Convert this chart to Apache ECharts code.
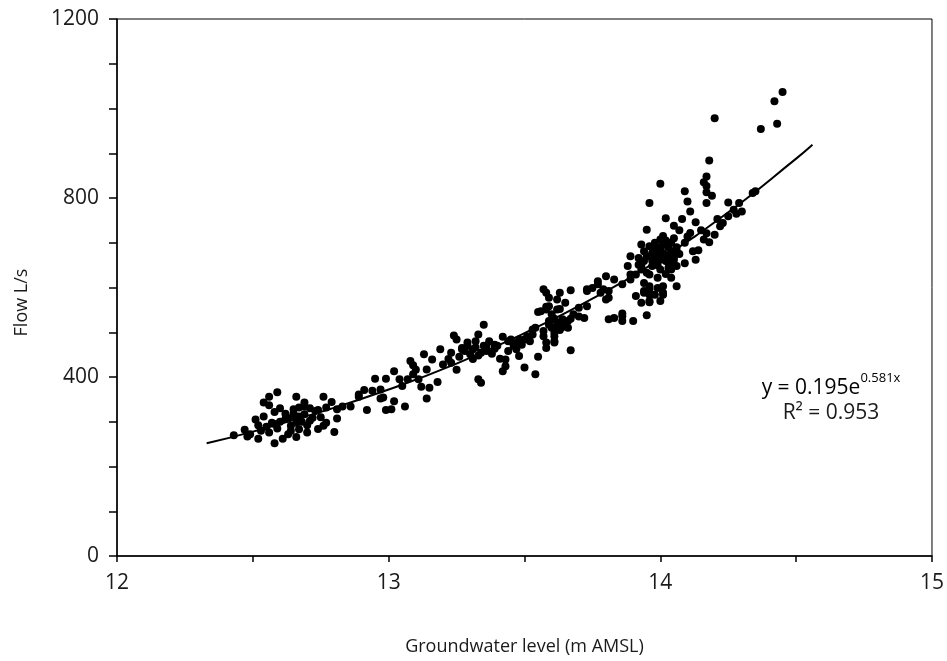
<!DOCTYPE html>
<html>
<head>
<meta charset="utf-8">
<script src="https://cdn.jsdelivr.net/npm/echarts@6/dist/echarts.min.js"></script>
<style>
  html, body { margin: 0; padding: 0; background: #fff; }
  #chart { width: 947px; height: 661px; }
</style>
</head>
<body>
<div id="chart"></div>
<script>
// Groundwater level (m AMSL) vs flow (L/s)
const groundwaterLevel = [
  12.59, 12.56, 12.54, 12.56, 12.66, 12.76, 12.79, 12.58, 12.54, 12.65,
  12.69, 12.74, 12.77, 12.81, 12.86, 12.89, 12.91, 12.95, 12.92, 12.94,
  12.97, 12.98, 12.52, 12.49, 12.52, 12.58, 12.56, 12.62, 12.63, 12.66,
  12.67, 12.70, 12.72, 12.76, 12.80, 12.81, 12.43, 12.48, 12.64, 12.59,
  12.55, 12.65, 12.69, 12.73, 12.67, 12.69, 12.77, 12.83, 12.97, 12.99,
  12.60, 12.62, 12.68, 12.70, 12.57, 12.53, 12.64, 12.71, 12.75, 12.61,
  12.51, 12.47, 12.60, 12.74, 12.66, 12.63, 12.67, 12.71, 12.58, 12.65,
  12.99, 13.02, 13.01, 13.02, 13.06, 13.08, 13.09, 13.07, 13.09, 13.10,
  13.13, 13.16, 13.19, 13.14, 13.12, 13.15, 13.14, 13.18, 13.20, 13.23,
  13.24, 13.25, 13.27, 13.23, 13.25, 13.29, 13.32, 13.33, 13.35, 13.30,
  13.34, 13.36, 13.33, 13.34, 13.39, 13.41, 13.43, 13.42, 13.45, 13.47,
  13.50, 13.50, 13.54, 13.55, 13.54, 13.57, 13.58, 13.61, 13.59, 13.56,
  13.58, 13.61, 12.89,
  13.28, 13.31, 13.35, 13.38, 13.40, 13.44, 13.47, 13.26, 13.22, 13.31,
  13.37, 13.42, 13.46, 13.49, 13.52, 13.53, 13.29, 13.33, 13.11, 13.05,
  13.04, 13.32, 13.36, 13.39, 13.27, 13.44,
  13.61, 13.67, 13.57, 13.59, 13.63, 13.67, 13.70, 13.73, 13.62, 13.59,
  13.57, 13.58, 13.62, 13.63, 13.65, 13.67, 13.73, 13.75, 13.77, 13.80,
  13.78, 13.80, 13.81, 13.81, 13.83, 13.86, 13.86, 13.90, 13.95, 13.93,
  13.96, 14.00, 13.89, 13.93, 13.95, 13.96, 13.94, 13.98, 14.01, 14.04,
  14.06, 13.61, 13.58,
  13.59, 13.55, 13.58, 13.63, 13.43, 13.48, 13.73, 13.86, 13.70, 13.48,
  13.51, 13.53, 13.59, 13.64, 13.66, 13.68, 13.72,
  13.60, 13.62, 13.64, 13.65, 13.63, 13.61, 13.66, 13.60, 13.62, 13.64,
  14.18, 14.00, 14.17, 14.16, 14.17, 14.17, 14.19, 14.17, 14.09, 14.10,
  13.96, 14.11, 14.02, 14.08, 14.13, 13.95, 14.05, 14.07, 14.11, 14.15,
  14.17, 14.16, 14.20, 14.21, 14.23, 14.25, 14.25, 14.27, 14.29, 14.30,
  14.35, 14.22, 14.18, 14.14, 14.13, 14.09, 13.93, 13.94, 13.96, 14.00,
  14.02, 13.99, 14.01, 14.04, 14.00, 14.02, 14.05, 13.97, 14.00, 14.03,
  14.06, 13.96, 13.99, 13.93, 13.91, 13.89, 13.94, 13.96, 13.94, 13.96,
  13.99, 14.01, 14.01, 13.96, 13.91, 13.86, 13.83, 13.77, 13.79, 13.81,
  13.89, 13.92, 13.95, 13.94, 13.92, 13.88, 14.09, 14.10, 14.12,
  13.98, 14.00, 14.02, 14.03, 14.05, 14.04, 14.01, 13.97, 14.06, 14.07,
  13.98, 14.03, 14.02, 13.99, 14.04, 13.97, 14.05, 14.01, 13.99, 14.03,
  14.00, 14.04, 14.02, 13.98, 14.06, 14.01,
  14.45, 14.42, 14.43, 14.37, 14.20, 14.34, 14.28
];
const flow = [
  366, 356, 343, 337, 356, 356, 344, 322, 312, 328,
  334, 326, 332, 328, 334, 356, 371, 396, 326, 369,
  372, 354, 292, 272, 262, 252, 276, 306, 272, 298,
  283, 276, 309, 291, 277, 307, 270, 267, 291, 285,
  289, 313, 317, 324, 332, 343, 298, 334, 352, 326,
  300, 318, 300, 292, 298, 280, 280, 330, 310, 262,
  305, 282, 330, 284, 266, 308, 312, 302, 295, 318,
  396, 413, 328, 346, 334, 436, 426, 395, 406, 416,
  451, 439, 462, 417, 378, 376, 352, 389, 428, 454,
  493, 484, 465, 432, 416, 477, 480, 495, 517, 451,
  454, 469, 395, 387, 463, 441, 424, 413, 484, 462,
  421, 484, 510, 445, 406, 491, 477, 480, 521, 547,
  557, 499, 361,
  458, 462, 470, 452, 470, 458, 475, 445, 440, 440,
  480, 490, 470, 472, 480, 495, 470, 448, 395, 380,
  395, 466, 458, 472, 462, 480,
  477, 460, 503, 517, 521, 530, 535, 558, 551, 558,
  596, 588, 573, 588, 566, 594, 596, 599, 614, 625,
  588, 573, 577, 529, 532, 536, 525, 525, 538, 566,
  570, 570, 629, 648, 633, 596, 588, 584, 588, 622,
  603, 491, 465,
  577, 545, 551, 552, 439, 447, 592, 542, 555, 484,
  491, 506, 525, 529, 525, 540, 532,
  510, 515, 512, 520, 505, 530, 510, 540, 522, 518,
  884, 832, 848, 835, 827, 813, 805, 789, 815, 792,
  789, 770, 755, 753, 746, 729, 738, 728, 722, 728,
  721, 707, 718, 753, 744, 790, 759, 774, 789, 770,
  815, 737, 701, 683, 662, 654, 696, 681, 692, 707,
  700, 685, 677, 681, 662, 659, 662, 648, 640, 644,
  648, 629, 622, 640, 629, 618, 610, 603, 592, 584,
  599, 603, 584, 567, 581, 607, 618, 607, 596, 592,
  670, 666, 670, 659, 651, 648, 700, 714, 681,
  670, 690, 672, 690, 670, 700, 715, 660, 690, 675,
  700, 655, 630, 650, 640, 677, 710, 695, 665, 668,
  680, 655, 705, 688, 682, 664,
  1037, 1016, 966, 954, 978, 811, 765
];

// Exponential trend line, read at a few x positions
const trendLevel = [12.33, 12.5, 12.75, 13, 13.25, 13.5, 13.75, 14, 14.25, 14.5, 14.56];
const trendFlow = [252, 278, 322, 372, 430, 498, 575, 664, 768, 888, 919];

const xTicks = { min: 12, max: 15, interval: 1 };
const yTicks = { min: 0, max: 1200, interval: 400 };

const fontFamily = '"Open Sans", "Noto Sans", sans-serif';
const textColor = '#1a1a1a';

const chart = echarts.init(document.getElementById('chart'), null, { renderer: 'canvas' });

const points = groundwaterLevel.map((x, i) => [x, flow[i]]);
const trend = trendLevel.map((x, i) => [x, trendFlow[i]]);

chart.setOption({
    animation: false,
    backgroundColor: '#fff',
    grid: {
        left: 117, right: 15, top: 19, bottom: 104,
        show: true, borderColor: '#000', borderWidth: 1, backgroundColor: 'transparent'
    },
    xAxis: {
        type: 'value',
        min: xTicks.min, max: xTicks.max, interval: xTicks.interval,
        name: 'Groundwater level (m AMSL)',
        nameLocation: 'middle',
        nameGap: 82,
        nameTextStyle: { fontFamily, fontSize: 18, color: textColor },
        axisLine: { show: true, lineStyle: { color: '#000', width: 1.5 } },
        axisTick: { show: true, inside: false, length: 6, lineStyle: { color: '#000', width: 1.5 } },
        minorTick: { show: true, splitNumber: 2, length: 6, lineStyle: { color: '#000', width: 1.5 } },
        axisLabel: { fontFamily, fontSize: 21, color: textColor, margin: 17 },
        splitLine: { show: false }
    },
    yAxis: {
        type: 'value',
        min: yTicks.min, max: yTicks.max, interval: yTicks.interval,
        name: 'Flow L/s',
        nameLocation: 'middle',
        nameGap: 86,
        nameTextStyle: { fontFamily, fontSize: 18, color: textColor, padding: [0, 30, 0, 0] },
        axisLine: { show: true, lineStyle: { color: '#000', width: 1.5 } },
        axisTick: { show: true, inside: false, length: 8, lineStyle: { color: '#000', width: 1.5 } },
        minorTick: { show: true, splitNumber: 4, length: 8, lineStyle: { color: '#000', width: 1.5 } },
        axisLabel: { fontFamily, fontSize: 21, color: textColor, margin: 18, formatter: (v) => String(v) },
        splitLine: { show: false }
    },
    series: [
        {
            type: 'scatter',
            data: points,
            symbol: 'circle',
            symbolSize: 8,
            itemStyle: { color: '#000', opacity: 1 }
        },
        {
            type: 'line',
            data: trend,
            smooth: true,
            showSymbol: false,
            lineStyle: { color: '#000', width: 2 },
            z: 3
        }
    ],
    graphic: [
        {
            type: 'text',
            x: 831, y: 385,
            style: {
                text: '{m|y = 0.195e}{s|0.581x}',
                align: 'center',
                verticalAlign: 'middle',
                rich: {
                    m: { fontFamily, fontSize: 21, color: textColor, lineHeight: 27, verticalAlign: 'bottom' },
                    s: { fontFamily, fontSize: 13, color: textColor, lineHeight: 27, verticalAlign: 'top' }
                }
            }
        },
        {
            type: 'text',
            x: 831, y: 413,
            style: {
                text: 'R² = 0.953',
                align: 'center',
                verticalAlign: 'middle',
                fontFamily, fontSize: 21, fill: textColor
            }
        }
    ]
});
</script>
</body>
</html>
